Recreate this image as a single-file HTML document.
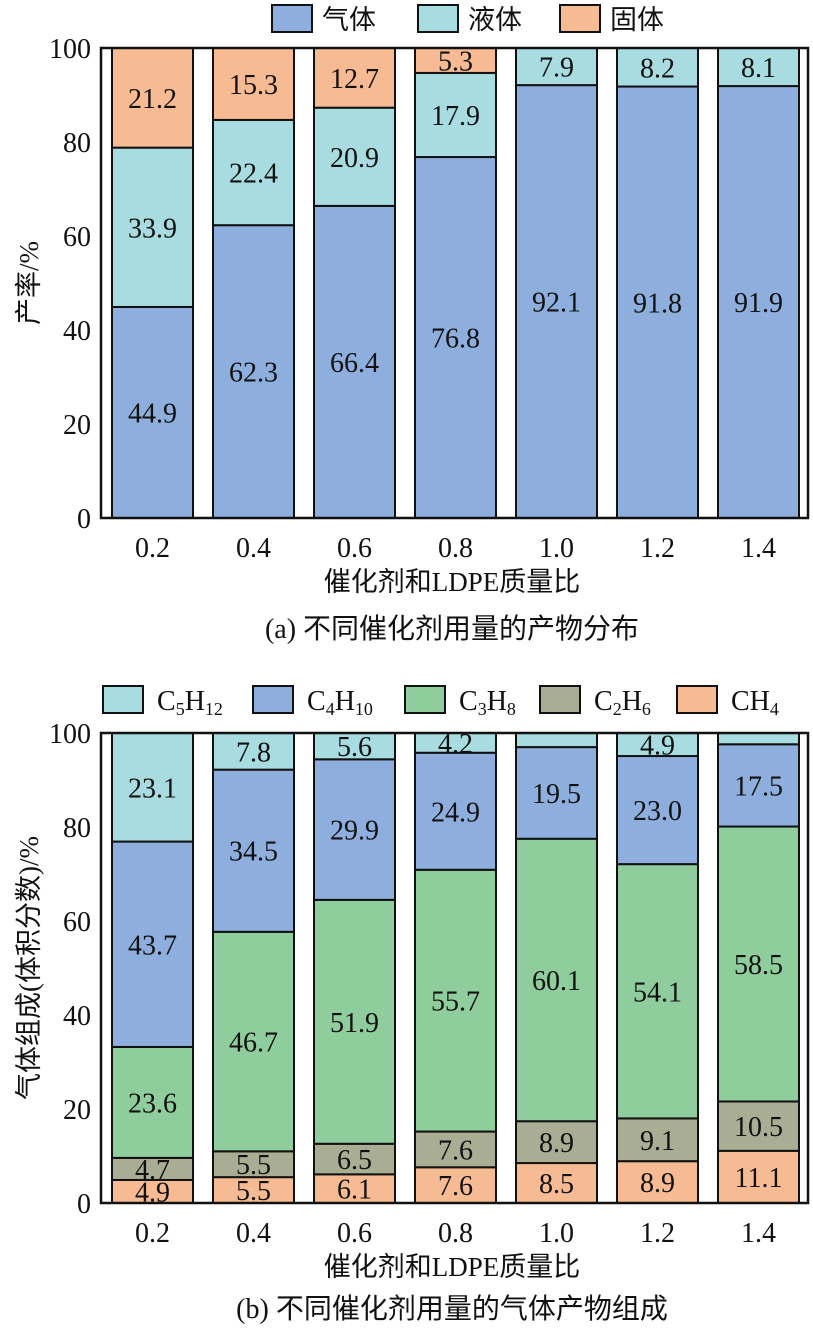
<!DOCTYPE html>
<html><head><meta charset="utf-8"><style>
body{margin:0;background:#fff}
svg text{font-family:"Liberation Serif","Noto Serif CJK SC",serif;fill:#111}
.cjk{font-family:"Liberation Serif","Noto Sans CJK SC",sans-serif}
</style></head><body>
<svg id="s" width="813" height="1333" viewBox="0 0 813 1333" xmlns="http://www.w3.org/2000/svg"></svg>
<script>
const cats=["0.2","0.4","0.6","0.8","1.0","1.2","1.4"];
const yTicks=[0,20,40,60,80,100];
// chart a
const aGas=[44.9,62.3,66.4,76.8,92.1,91.8,91.9];
const aLiq=[33.9,22.4,20.9,17.9,7.9,8.2,8.1];
const aSol=[21.2,15.3,12.7,5.3,0,0,0];
// chart b
const bCH4=[4.9,5.5,6.1,7.6,8.5,8.9,11.1];
const bC2=[4.7,5.5,6.5,7.6,8.9,9.1,10.5];
const bC3=[23.6,46.7,51.9,55.7,60.1,54.1,58.5];
const bC4=[43.7,34.5,29.9,24.9,19.5,23.0,17.5];
const bC5=[23.1,7.8,5.6,4.2,3.0,4.9,2.4];

const NS="http://www.w3.org/2000/svg";
const svg=document.getElementById('s');
function mk(tag,attrs,parent,txt){const e=document.createElementNS(NS,tag);for(const k in attrs)e.setAttribute(k,attrs[k]);if(txt!==undefined)e.textContent=txt;(parent||svg).appendChild(e);return e;}

function chart(name,top,bottom,series,colors,minLabel,ytitle){
  const g=mk('g',{},svg);
  
  
  const left=101,right=808;
  const y=v=>bottom-(v/100)*(bottom-top);
  const xc=i=>152.5+i*101;
  const bw=81;
  cats.forEach((c,i)=>{
    let acc=0;
    series.forEach((s,k)=>{
      const v=s.vals[i];
      if(v<=0){return;}
      const r=mk('rect',{x:xc(i)-bw/2,y:y(acc+v),width:bw,height:y(acc)-y(acc+v),fill:colors[k],stroke:'#111','stroke-width':2},g);
      
      
      if(v>=minLabel){
        const t=mk('text',{x:xc(i),y:(y(acc)+y(acc+v))/2+10,'text-anchor':'middle','font-size':28},g,v.toFixed(1));
        
        
      }
      acc+=v;
    });
    const tl=mk('text',{x:xc(i),y:bottom+39,'text-anchor':'middle','font-size':28},g,c);
    
    
  });
  const fr=mk('rect',{x:left,y:top,width:right-left,height:bottom-top,fill:'none',stroke:'#111','stroke-width':2.5},g);
  
  
  yTicks.forEach(v=>{
    const t=mk('text',{x:left-10,y:y(v)+10,'text-anchor':'end','font-size':28},g,String(v));
    
    
  });
  const yt=mk('text',{x:0,y:0,'text-anchor':'middle','font-size':27,class:'cjk',transform:`translate(38,${(top+bottom)/2}) rotate(-90)`},g,ytitle);
  
  
  const xt=mk('text',{x:452,y:bottom+73,'text-anchor':'middle','font-size':27,class:'cjk'},g,'催化剂和LDPE质量比');
  
  
}

const blue='#8eafdd',cyan='#a8dce0',orange='#f6bb93',green='#90cd9d',olive='#a9ad93';
chart('chart-a',48,518,[{key:'gas',vals:aGas},{key:'liquid',vals:aLiq},{key:'solid',vals:aSol}],[blue,cyan,orange],1,'产率/%');
chart('chart-b',733,1203,[{key:'ch4',vals:bCH4},{key:'c2h6',vals:bC2},{key:'c3h8',vals:bC3},{key:'c4h10',vals:bC4},{key:'c5h12',vals:bC5}],[orange,olive,green,blue,cyan],4,'气体组成(体积分数)/%');

// legend a
[[272,'气体',blue],[418,'液体',cyan],[560,'固体',orange]].forEach(([x,l,c])=>{
  const r=mk('rect',{x:x,y:5,width:40,height:27,fill:c,stroke:'#111','stroke-width':2});
  
  
  const t=mk('text',{x:x+50,y:29,'font-size':27,class:'cjk'},svg,l);
  
  
});
// legend b
[[103,'C','5','H','12',cyan],[253,'C','4','H','10',blue],[405,'C','3','H','8',green],[540,'C','2','H','6',olive],[677,'CH','4','','',orange]].forEach(([x,a,b,c,d,col])=>{
  const r=mk('rect',{x:x,y:686,width:40,height:27,fill:col,stroke:'#111','stroke-width':2});
  
  
  const t=mk('text',{x:x+54,y:710,'font-size':28});
  
  
  mk('tspan',{},t,a);
  mk('tspan',{'font-size':18,dy:5},t,b);
  if(c){mk('tspan',{dy:-5},t,c);mk('tspan',{'font-size':18,dy:5},t,d);}
});
const c1=mk('text',{x:452,y:638,'text-anchor':'middle','font-size':28,class:'cjk'},svg,'(a) 不同催化剂用量的产物分布');


const c2=mk('text',{x:452,y:1318,'text-anchor':'middle','font-size':28,class:'cjk'},svg,'(b) 不同催化剂用量的气体产物组成');


</script>
</body></html>
